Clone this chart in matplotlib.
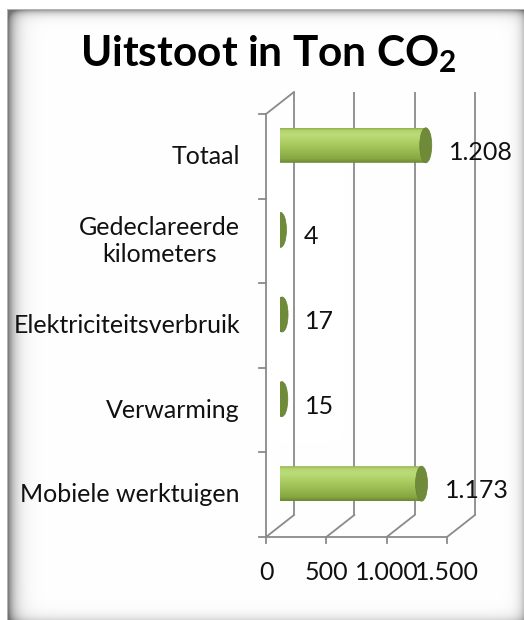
import numpy as np
import matplotlib
matplotlib.use("Agg")
import matplotlib.pyplot as plt
from matplotlib.patches import Ellipse, PathPatch
from matplotlib.path import Path
from matplotlib.colors import LinearSegmentedColormap
from matplotlib.transforms import offset_copy

# ---- data ----
categories = ["Mobiele werktuigen", "Verwarming", "Elektriciteitsverbruik",
              "Gedeclareerde\nkilometers", "Totaal"]
values = [1173, 15, 17, 4, 1208]
xticks = [0, 500, 1000, 1500]
title_text = r"Uitstoot in Ton CO$_\mathregular{2}$"


def fmt(v):
    return f"{v:,}".replace(",", ".")


FONT = ["Lato", "DejaVu Sans"]
plt.rcParams["font.family"] = FONT

W, H = 524, 620
fig = plt.figure(figsize=(W / 100, H / 100), dpi=100)
fig.patch.set_facecolor("white")

# ---- frame with inner shadow (decoration) ----
bg = fig.add_axes([0, 0, 1, 1], zorder=0)
bg.set_axis_off()
xx, yy = np.meshgrid(np.arange(W), np.arange(H))
s = (0.50 * np.exp(-np.clip(xx - 8, 0, None) / 7.0)
     + 0.35 * np.exp(-np.clip(yy - 10, 0, None) / 4.0)
     + 0.22 * np.exp(-np.clip(W - 1 - xx, 0, None) / 5.0)
     + 0.14 * np.exp(-np.clip(H - 1 - yy, 0, None) / 5.0))
val = np.clip(1 - s, 0.45, 1.0)
val[(xx < 7) | (yy < 9)] = 1.0
val[(xx == 7) & (yy >= 9)] = 0.70
val[(yy == 9) & (xx >= 7)] = 0.70
img = np.dstack([val, val, val])
bg.imshow(img, extent=[0, 1, 0, 1], aspect="auto", interpolation="nearest")
bg.set_xlim(0, 1)
bg.set_ylim(0, 1)

# ---- main axes (mid-depth plane) ----
ax_l, ax_b, ax_w, ax_h = 280 / W, (H - 526) / H, 181 / W, 423 / H
ax = fig.add_axes([ax_l, ax_b, ax_w, ax_h], zorder=1)
ax.set_axis_off()
ax.patch.set_alpha(0)
xmin, xmax = 0, 1500
ymin, ymax = -0.5, len(categories) - 0.5

px_x = ax_w * W / (xmax - xmin)       # pixels per value unit
px_y = ax_h * H / (ymax - ymin)       # pixels per category
dxd = 14 / px_x                       # half depth, value units
dyd = 11 / px_y                       # half depth, category units

gc = "#8a8a8a"
lw = 1.3
# back wall gridlines
for v in xticks:
    ax.plot([v + dxd, v + dxd], [ymin + dyd, ymax + dyd], color=gc, lw=lw,
            clip_on=False, zorder=1, solid_capstyle="butt")
    # floor lines
    ax.plot([v - dxd, v + dxd], [ymin - dyd, ymin + dyd], color=gc, lw=lw,
            clip_on=False, zorder=1)
    # tick marks under front axis
    ax.plot([v - dxd, v - dxd], [ymin - dyd, ymin - dyd - 6 / px_y], color=gc,
            lw=lw, clip_on=False, zorder=1)
# front bottom axis
ax.plot([xmin - dxd, xmax - dxd], [ymin - dyd, ymin - dyd], color=gc, lw=lw,
        clip_on=False, zorder=1)
# front left axis
ax.plot([xmin - dxd, xmin - dxd], [ymin - dyd, ymax - dyd], color=gc, lw=lw,
        clip_on=False, zorder=1)
# top diagonal of left wall
ax.plot([xmin - dxd, xmin + dxd], [ymax - dyd, ymax + dyd], color=gc, lw=lw,
        clip_on=False, zorder=1)
# category tick marks
for k in range(len(categories) + 1):
    yk = k - 0.5 - dyd
    ax.plot([xmin - dxd - 7 / px_x, xmin - dxd], [yk, yk], color=gc, lw=lw,
            clip_on=False, zorder=1)

# ---- cylinders ----
body_cmap = LinearSegmentedColormap.from_list(
    "body",
    [(0.0, "#6a8733"), (0.12, "#86a741"), (0.5, "#a5c85b"),
     (0.8, "#badb78"), (0.93, "#b4d46e"), (1.0, "#90ac4c")])
bar_h = 35 / px_y
ew = 12 / px_x
grad = np.linspace(0, 1, 256).reshape(-1, 1)
for i, v in enumerate(values):
    yc = i
    y0, y1 = yc - bar_h / 2, yc + bar_h / 2
    t = np.linspace(-np.pi / 2, np.pi / 2, 60)
    arc_x = -(ew / 2) * np.cos(t)
    arc_y = yc + (bar_h / 2) * np.sin(t)
    verts = [(0, y1), (v, y1), (v, y0), (0, y0)] + list(zip(arc_x, arc_y)) + [(0, y1)]
    codes = [Path.MOVETO] + [Path.LINETO] * (len(verts) - 2) + [Path.CLOSEPOLY]
    patch = PathPatch(Path(verts, codes), facecolor="none", edgecolor="none",
                      transform=ax.transData)
    ax.add_patch(patch)
    im = ax.imshow(grad, extent=[-ew / 2, v + ew / 2, y0, y1], origin="lower",
                   cmap=body_cmap, aspect="auto", zorder=2,
                   interpolation="bilinear")
    im.set_clip_path(patch)
    cap = Ellipse((v, yc), ew, bar_h, facecolor="#6f8b3a", edgecolor="#66812f",
                  lw=0.5, zorder=3)
    ax.add_patch(cap)
    # value label
    tr = offset_copy(ax.transData, fig=fig, x=ew / 2 * px_x + 17, y=-7,
                     units="dots")
    ax.text(v, yc, fmt(v), transform=tr, ha="left", va="center",
            fontsize=18, color="#111111", zorder=4)

ax.set_xlim(xmin, xmax)
ax.set_ylim(ymin, ymax)

# category labels
for i, c in enumerate(categories):
    tr = offset_copy(ax.transData, fig=fig, x=-26, y=0, units="dots")
    ax.text(xmin - dxd, i - dyd, c, transform=tr, ha="right", va="center",
            multialignment="center", fontsize=18, color="#111111",
            linespacing=1.25)

# value axis tick labels
for v in xticks:
    tr = offset_copy(ax.transData, fig=fig, x=0, y=-35, units="dots")
    ax.text(v - dxd, ymin - dyd, fmt(v), transform=tr, ha="center",
            va="center", fontsize=18, color="#111111")

# title
fig.text(268.5 / W, 1 - 54 / H, title_text, ha="center", va="center",
         fontsize=30.5, fontweight="bold", color="black")

fig.savefig("out.png", dpi=100)
